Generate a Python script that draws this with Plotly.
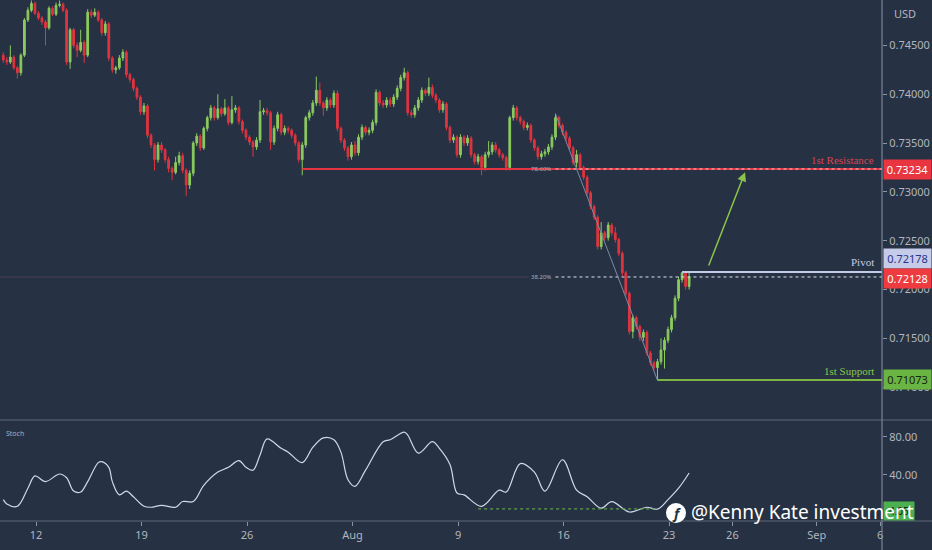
import plotly.graph_objects as go

# ---------------- data (4H candles, x = trading-day index from Jul 12) ----------------
first_open = 0.7440
closes = [
    .7435, .7433, .7438, .7427, .7422, .7440, .7476, .7486, .7493, .7483,
    .7478, .7474, .7468, .7488, .7482, .7491, .7492, .7486, .7433, .7466,
    .7450, .7445, .7453, .7440, .7484, .7481, .7484, .7476, .7463, .7472,
    .7437, .7425, .7427, .7437, .7443, .7420, .7415, .7406, .7397, .7382,
    .7388, .7358, .7348, .7333, .7348, .7343, .7333, .7324, .7320, .7330,
    .7337, .7322, .7307, .7319, .7350, .7357, .7345, .7365, .7376, .7386,
    .7376, .7385, .7380, .7386, .7371, .7384, .7386, .7372, .7363, .7356,
    .7351, .7346, .7353, .7382, .7383, .7381, .7351, .7365, .7379, .7361,
    .7365, .7363, .7358, .7350, .7333, .7348, .7376, .7381, .7391, .7404,
    .7391, .7386, .7394, .7389, .7401, .7365, .7353, .7345, .7336, .7348,
    .7340, .7356, .7366, .7361, .7363, .7371, .7402, .7391, .7389, .7394,
    .7390, .7397, .7406, .7417, .7422, .7381, .7379, .7386, .7394, .7404,
    .7401, .7407, .7399, .7394, .7384, .7390, .7366, .7353, .7356, .7338,
    .7356, .7350, .7355, .7338, .7331, .7336, .7325, .7338, .7341, .7348,
    .7343, .7338, .7335, .7325, .7376, .7386, .7376, .7372, .7366, .7368,
    .7353, .7345, .7336, .7339, .7341, .7346, .7356, .7376, .7368, .7361,
    .7355, .7345, .7330, .7338, .7325, .7315, .7299, .7285, .7274, .7244,
    .7258, .7253, .7266, .7258, .7251, .7237, .7217, .7196, .7157, .7171,
    .7162, .7151, .7156, .7135, .7125, .7120, .7126, .7138, .7148, .7159,
    .7171, .7191, .7210, .7217, .7203, .72128,
]
highs = [
    .7443, .7438, .7450, .7440, .7429, .7442, .7478, .7489, .7496, .7495,
    .7485, .7480, .7476, .7490, .7490, .7494, .7496, .7494, .7488, .7468,
    .7468, .7453, .7466, .7455, .7487, .7487, .7488, .7486, .7478, .7475,
    .7474, .7439, .7429, .7440, .7446, .7445, .7422, .7417, .7408, .7399,
    .7391, .7390, .7360, .7350, .7351, .7351, .7345, .7336, .7326, .7336,
    .7341, .7340, .7324, .7322, .7352, .7360, .7359, .7367, .7378, .7389,
    .7388, .7400, .7387, .7395, .7388, .7398, .7389, .7388, .7374, .7365,
    .7358, .7353, .7356, .7394, .7386, .7386, .7383, .7368, .7382, .7381,
    .7368, .7367, .7365, .7360, .7352, .7351, .7378, .7384, .7394, .7418,
    .7412, .7393, .7397, .7396, .7404, .7404, .7367, .7355, .7347, .7351,
    .7352, .7359, .7369, .7368, .7366, .7374, .7405, .7404, .7394, .7397,
    .7397, .7400, .7409, .7420, .7427, .7424, .7384, .7389, .7397, .7407,
    .7406, .7417, .7410, .7401, .7396, .7393, .7392, .7368, .7359, .7358,
    .7359, .7358, .7358, .7357, .7340, .7339, .7338, .7341, .7352, .7351,
    .7351, .7345, .7340, .7337, .7378, .7389, .7388, .7378, .7374, .7371,
    .7370, .7355, .7347, .7342, .7344, .7349, .7359, .7380, .7378, .7370,
    .7363, .7357, .7347, .7343, .7340, .7327, .7317, .7301, .7287, .7276,
    .7269, .7260, .7269, .7268, .7264, .7253, .7239, .7219, .7198, .7174,
    .7173, .7164, .7159, .7158, .7137, .7127, .7129, .7150, .7151, .7162,
    .7174, .7194, .7213, .7218, .7219, .7218,
]
lows = [
    .7432, .7430, .7431, .7425, .7416, .7419, .7438, .7474, .7484, .7481,
    .7476, .7471, .7450, .7466, .7480, .7480, .7489, .7484, .7430, .7426,
    .7447, .7438, .7443, .7432, .7438, .7478, .7479, .7474, .7460, .7460,
    .7434, .7422, .7421, .7425, .7434, .7417, .7412, .7403, .7394, .7379,
    .7379, .7355, .7345, .7322, .7330, .7340, .7330, .7320, .7312, .7318,
    .7327, .7319, .7296, .7303, .7316, .7347, .7342, .7343, .7362, .7373,
    .7373, .7374, .7377, .7378, .7368, .7369, .7381, .7369, .7360, .7353,
    .7348, .7336, .7343, .7350, .7379, .7378, .7343, .7348, .7362, .7358,
    .7358, .7360, .7355, .7347, .7330, .7317, .7345, .7373, .7378, .7388,
    .7388, .7378, .7383, .7386, .7386, .7362, .7350, .7342, .7332, .7333,
    .7337, .7337, .7353, .7358, .7358, .7360, .7368, .7388, .7386, .7386,
    .7387, .7387, .7394, .7403, .7414, .7378, .7376, .7376, .7383, .7391,
    .7398, .7398, .7396, .7391, .7381, .7381, .7363, .7350, .7350, .7335,
    .7335, .7347, .7347, .7335, .7328, .7328, .7317, .7322, .7335, .7338,
    .7340, .7335, .7332, .7322, .7322, .7373, .7373, .7369, .7363, .7363,
    .7350, .7342, .7333, .7333, .7336, .7338, .7343, .7353, .7365, .7358,
    .7352, .7342, .7327, .7325, .7322, .7312, .7296, .7282, .7271, .7241,
    .7241, .7250, .7250, .7255, .7248, .7234, .7214, .7193, .7154, .7150,
    .7159, .7147, .7147, .7132, .7122, .7117, .7107, .7123, .7119, .7145,
    .7156, .7168, .7188, .7207, .7200, .7200,
]
opens = [first_open] + closes[:-1]
first_bar_day = -1.55
bar_days = [first_bar_day + i / 6 for i in range(len(closes))]

stoch_bar = [0, 1, 4, 7, 9, 12, 16, 18, 20, 22, 24, 27, 28, 30, 31, 33, 35, 37, 40, 42,
             45, 49, 51, 54, 57, 61, 64, 67, 69, 71, 73, 75, 79, 81, 85, 88, 91, 94, 96, 98,
             100, 103, 108, 110, 114, 115, 118, 122, 124, 127, 129, 131, 136, 141, 143, 147,
             151, 154, 159, 163, 166, 170, 173, 178, 183, 186, 189, 192, 195]
stoch_val = [14, 9.5, 7, 26, 39, 33, 41, 37, 23, 22, 33, 53, 54, 48, 33, 19, 23, 17, 7, 6,
             8, 6, 12, 12, 29, 43, 48, 55, 48, 45, 61, 78, 68, 64, 53, 69, 79, 77, 64, 35,
             28, 45, 75, 77, 85, 82, 63, 75, 68, 51, 21, 19, 7, 24, 22, 52,
             43, 23, 56, 24, 17, 5, 12, 1, 6, 4, 14, 26, 42]

tick_days = [0, 5, 10, 15, 20, 25, 30, 33, 37, 40]
tick_labels = ['12', '19', '26', 'Aug', '9', '16', '23', '26', 'Sep', '6']
price_ticks = [0.710, 0.715, 0.720, 0.725, 0.730, 0.735, 0.740, 0.745]
stoch_ticks = [40, 80]

resistance = 0.73234
pivot = 0.72178
last_price = 0.72128
support = 0.71073
fib_high, fib_low = 0.7380, 0.7107
fib_786, fib_382 = 0.73234, 0.72128
stoch_level = 4.2
stoch_label = '4.05'

# ---------------- figure ----------------
BG = '#263244'
X_MIN, X_MAX = -1.706, 40.09
XDOM = 882 / 932
MAIN_BOTTOM = 1 - 420 / 550
ST_BOTTOM, ST_TOP = 1 - 521 / 550, 1 - 421 / 550
TICKC = '#b2b5be'
UP, DN = '#8ccb5e', '#e0343f'
SERIF = 'Liberation Serif'
SANS = 'Noto Sans'

fig = go.Figure()
fig.add_trace(go.Candlestick(
    x=bar_days, open=opens, high=highs, low=lows, close=closes,
    increasing=dict(line=dict(color=UP, width=1), fillcolor=UP),
    decreasing=dict(line=dict(color=DN, width=1), fillcolor=DN),
    whiskerwidth=0, hoverinfo='skip', showlegend=False, xaxis='x', yaxis='y'))

fig.add_trace(go.Scatter(
    x=[bar_days[b] for b in stoch_bar], y=stoch_val, mode='lines',
    line=dict(color='#cfd8e8', width=1.2, shape='spline', smoothing=1.0),
    hoverinfo='skip', showlegend=False, xaxis='x', yaxis='y2'))

def hline(x0, x1, y, color, width=1, dash='solid', yref='y'):
    fig.add_shape(type='line', xref='x', yref=yref, x0=x0, x1=x1, y0=y, y1=y,
                  line=dict(color=color, width=width, dash=dash), layer='above')

fib_start = bar_days[157]
hline(X_MIN, 23.35, fib_382, '#37384f', 2)
hline(bar_days[85], X_MAX, resistance, '#e5343f', 2)
hline(fib_start, X_MAX, fib_786, '#f3c6cc', 1, 'dot')
hline(fib_start, X_MAX, last_price, '#dfe3ee', 1, 'dot')
hline(bar_days[193], X_MAX, pivot, '#c5cae9', 2)
hline(bar_days[186], X_MAX, support, '#7cb342', 2)
hline(bar_days[135], bar_days[185], stoch_level, '#5f9e47', 1.2, 'dot', yref='y2')
fig.add_shape(type='line', xref='x', yref='y', x0=bar_days[157], y0=fib_high,
              x1=bar_days[186], y1=fib_low, line=dict(color='#7d8aa6', width=1))

for yy in (MAIN_BOTTOM, ST_BOTTOM):
    fig.add_shape(type='line', xref='paper', yref='paper', x0=0, x1=1, y0=yy, y1=yy,
                  line=dict(color='#5d6678', width=1))
fig.add_shape(type='line', xref='paper', yref='paper', x0=XDOM, x1=XDOM, y0=0, y1=1,
              line=dict(color='#8a93a5', width=1))

fig.add_shape(type='circle', xref='paper', yref='paper',
              x0=666 / 932, x1=686 / 932, y0=1 - 523 / 550, y1=1 - 503 / 550,
              fillcolor='white', line=dict(color='white', width=0))

ann = []
ann.append(dict(x=39.8, y=resistance, xref='x', yref='y', text='1st Resistance',
                xanchor='right', yanchor='bottom', yshift=1, showarrow=False,
                font=dict(family=SERIF, size=11, color='#d8434f')))
ann.append(dict(x=39.8, y=pivot, xref='x', yref='y', text='Pivot',
                xanchor='right', yanchor='bottom', yshift=2, showarrow=False,
                font=dict(family=SERIF, size=11, color='#c5cae9')))
ann.append(dict(x=39.8, y=support, xref='x', yref='y', text='1st Support',
                xanchor='right', yanchor='bottom', yshift=1, showarrow=False,
                font=dict(family=SERIF, size=11, color='#8bc34a')))
ann.append(dict(x=fib_start, y=fib_786, xref='x', yref='y', text='78.60%',
                xanchor='right', yanchor='middle', xshift=-2, showarrow=False,
                font=dict(family=SANS, size=6, color='#a8aebd')))
ann.append(dict(x=fib_start, y=fib_382, xref='x', yref='y', text='38.20%',
                xanchor='right', yanchor='middle', xshift=-2, showarrow=False,
                font=dict(family=SANS, size=6, color='#a8aebd')))

def box(y, text, bg, fg, yref='y', yshift=0):
    ann.append(dict(x=883 / 932, y=y, xref='paper', yref=yref, text=text,
                    xanchor='left', yanchor='middle', yshift=yshift, showarrow=False,
                    bgcolor=bg, width=45, height=17, borderpad=1,
                    font=dict(family=SANS, size=11, color=fg)))

box(resistance, '0.73234', '#e8353f', '#ffffff')
box(pivot, '0.72178', '#c5cbe9', '#28348a', yshift=14)
box(last_price, '0.72128', '#ee3b3f', '#ffffff', yshift=-2)
box(support, '0.71073', '#69b443', '#16260e')
ann.append(dict(x=883 / 932, y=2, xref='paper', yref='y2', text=stoch_label,
                xanchor='left', yanchor='middle', showarrow=False,
                bgcolor='#4caf50', width=28, height=16, borderpad=1,
                font=dict(family=SANS, size=10, color='#16260e')))

ann.append(dict(x=905 / 932, y=1 - 13 / 550, xref='paper', yref='paper', text='USD',
                xanchor='center', yanchor='middle', showarrow=False,
                font=dict(family=SANS, size=11, color=TICKC)))
ann.append(dict(x=4 / 932, y=1 - 433 / 550, xref='paper', yref='paper', text='Stoch',
                xanchor='left', yanchor='middle', showarrow=False,
                font=dict(family=SANS, size=7, color='#a8aebd')))

ann.append(dict(x=33.6, y=0.7320, ax=31.85, ay=0.7223, xref='x', yref='y',
                axref='x', ayref='y', text='', showarrow=True, arrowhead=2,
                arrowsize=1.2, arrowwidth=1.5, arrowcolor='#8bc34a'))

ann.append(dict(x=676 / 932, y=1 - 513 / 550, xref='paper', yref='paper', text='<b><i>f</i></b>',
                xanchor='center', yanchor='middle', showarrow=False,
                font=dict(family=SANS, size=14, color=BG)))
ann.append(dict(x=689 / 932, y=1 - 512 / 550, xref='paper', yref='paper',
                text='@Kenny Kate investment', xanchor='left', yanchor='middle',
                showarrow=False, font=dict(family=SANS, size=19, color='#ffffff')))

fig.update_layout(
    width=932, height=550, margin=dict(l=0, r=0, t=0, b=0, autoexpand=False),
    paper_bgcolor=BG, plot_bgcolor=BG, showlegend=False,
    annotations=ann,
    xaxis=dict(domain=[0, XDOM], range=[X_MIN, X_MAX], anchor='y2',
               tickmode='array', tickvals=tick_days, ticktext=tick_labels,
               ticks='outside', ticklen=4, tickcolor='#8a93a5',
               tickfont=dict(family=SANS, size=11, color=TICKC),
               showgrid=False, zeroline=False, showline=False,
               rangeslider=dict(visible=False), fixedrange=True, automargin=False),
    yaxis=dict(domain=[MAIN_BOTTOM, 1], range=[0.70663, 0.74965], side='right',
               anchor='x', tickmode='array', tickvals=price_ticks,
               ticktext=[f'{v:.5f}' for v in price_ticks],
               ticks='outside', ticklen=4, tickcolor='#8a93a5',
               tickfont=dict(family=SANS, size=11, color=TICKC),
               showgrid=False, zeroline=False, showline=False, automargin=False),
    yaxis2=dict(domain=[ST_BOTTOM, ST_TOP], range=[-8.5, 96.8], side='right',
                anchor='x', tickmode='array', tickvals=stoch_ticks,
                ticktext=[f'{v:.2f}' for v in stoch_ticks],
                ticks='outside', ticklen=4, tickcolor='#8a93a5',
                tickfont=dict(family=SANS, size=11, color=TICKC),
                showgrid=False, zeroline=False, showline=False, automargin=False),
)

fig.write_html('out.html', config={'displayModeBar': False},
               post_script="document.body.style.margin='0';document.body.style.overflow='hidden';")
